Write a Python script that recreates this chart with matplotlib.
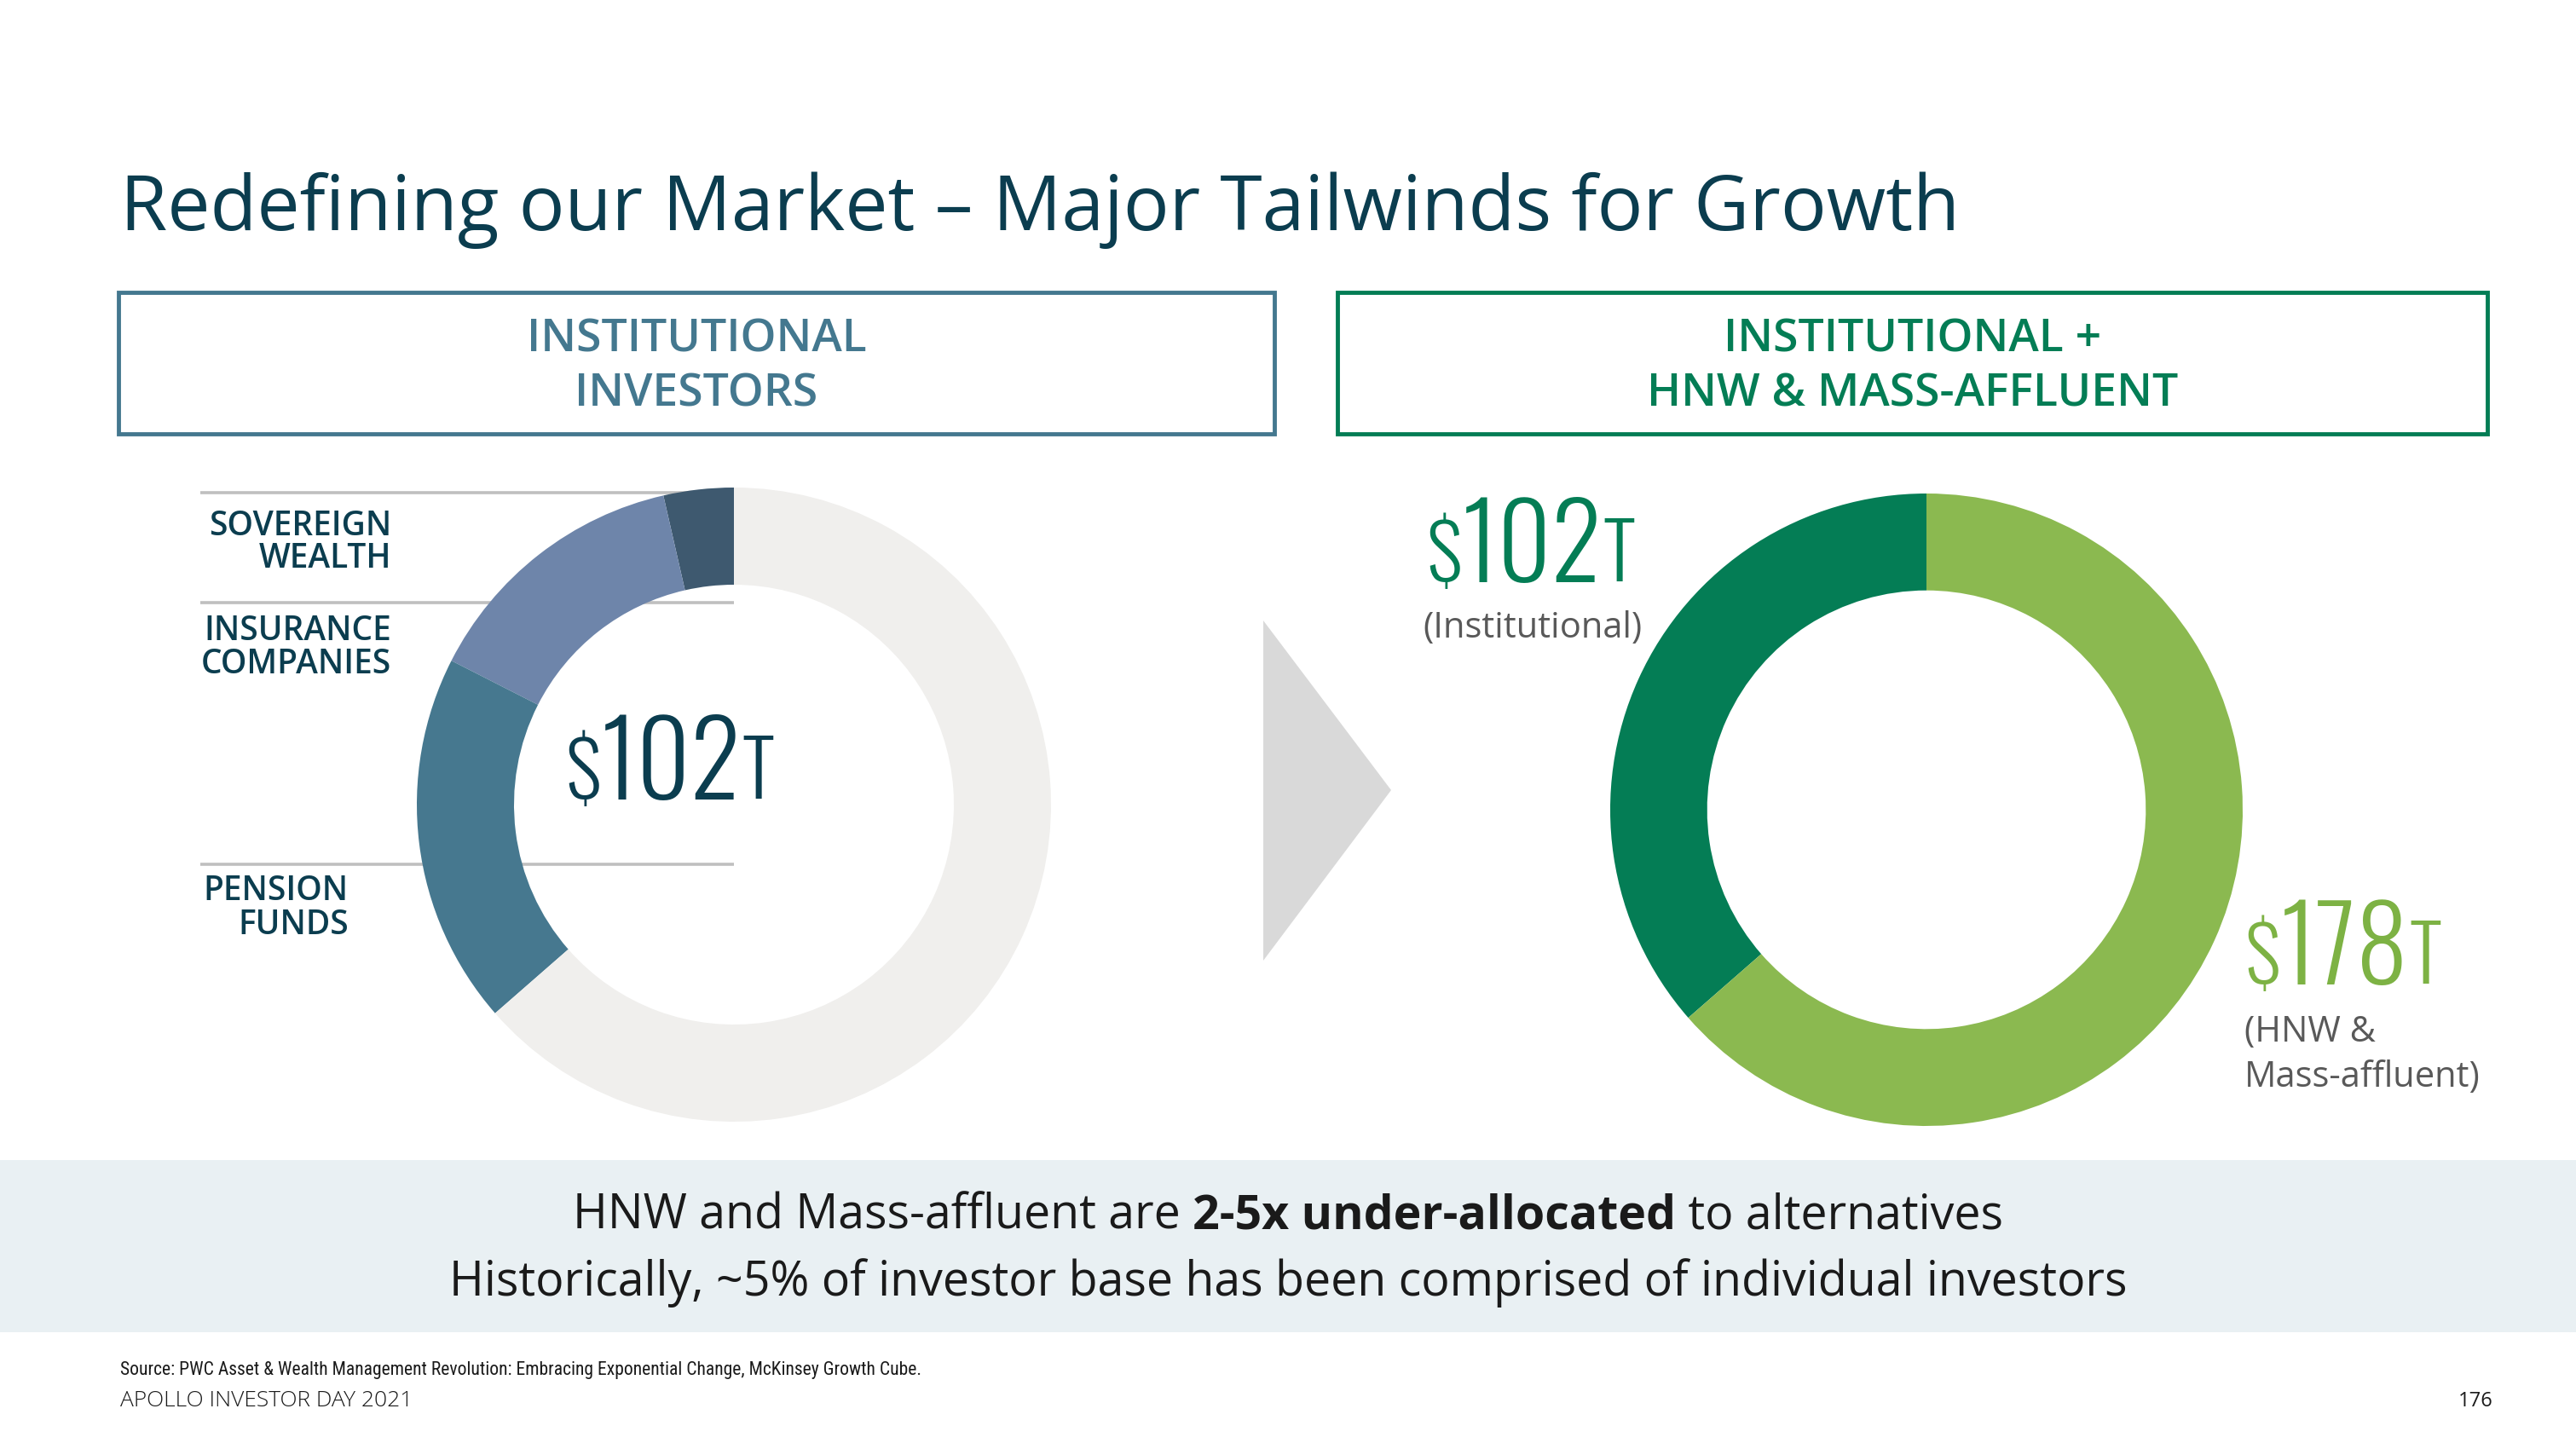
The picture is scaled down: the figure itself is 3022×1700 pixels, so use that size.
import os
import matplotlib
matplotlib.use("Agg")
import matplotlib.pyplot as plt
from matplotlib import font_manager as fm
from matplotlib.font_manager import FontProperties
from matplotlib.patches import Rectangle, Polygon

# ---------------- data ----------------
title = "Redefining our Market \u2013 Major Tailwinds for Growth"
left_header = ["INSTITUTIONAL", "INVESTORS"]
right_header = ["INSTITUTIONAL +", "HNW & MASS-AFFLUENT"]

inst_labels = [["SOVEREIGN", "WEALTH"], ["INSURANCE", "COMPANIES"], ["PENSION", "FUNDS"]]
inst_values = [10, 39, 53]          # $T, institutional segments
hnw_value = 178                      # $T, HNW & mass-affluent
total_labels = ["(Institutional)", ["(HNW &", "Mass-affluent)"]]
total_values = [sum(inst_values), hnw_value]

band_line1 = [("HNW and Mass-affluent are ", "normal"), ("2-5x under-allocated", "bold"),
              (" to alternatives", "normal")]
band_line2 = "Historically, ~5% of investor base has been comprised of individual investors"
source = "Source: PWC Asset & Wealth Management Revolution: Embracing Exponential Change, McKinsey Growth Cube."
footer = "APOLLO INVESTOR DAY 2021"
page = "176"

# ---------------- styles ----------------
W, H = 3022, 1700
DARK = "#0B3D4F"
STEEL = "#44788F"
GREEN = "#047D55"
LGREEN = "#8BB950"
GREYTXT = "#595959"
inst_colors = ["#3E596F", "#6E85AA", "#46788F"]
rest_color = "#F0EFED"

BASE = ["Open Sans", "Noto Sans", "DejaVu Sans"]
plt.rcParams["font.family"] = BASE


def find_font(preds):
    for pred in preds:
        for f in fm.fontManager.ttflist:
            try:
                if pred(f):
                    return f.fname
            except Exception:
                pass
    return None


cond_path = find_font([
    lambda f: f.name == "Oswald" and f.style == "normal",
    lambda f: f.name == "Roboto Condensed" and f.weight in (300, "light") and f.style == "normal",
])
# make a light static instance of the (variable) condensed font if possible
if cond_path and "[" in os.path.basename(cond_path):
    try:
        from fontTools.ttLib import TTFont
        from fontTools.varLib import instancer
        vf = TTFont(cond_path)
        inst = instancer.instantiateVariableFont(vf, {"wght": 300})
        inst.save("cond_light.ttf")
        cond_path = os.path.abspath("cond_light.ttf")
    except Exception:
        pass

narrow_path = find_font([
    lambda f: f.name == "Liberation Sans Narrow" and f.weight in (400, "normal", "regular") and f.style == "normal",
    lambda f: f.name == "Roboto Condensed" and f.weight in (400, "normal") and f.style == "normal",
])


def cond_fp(size):
    if cond_path:
        return FontProperties(fname=cond_path, size=size)
    return FontProperties(family=BASE, size=size, weight="light")


def narrow_fp(size):
    if narrow_path:
        return FontProperties(fname=narrow_path, size=size)
    return FontProperties(family=BASE, size=size)


fig = plt.figure(figsize=(W / 100, H / 100), dpi=100)
ax = fig.add_axes([0, 0, 1, 1])
renderer = fig.canvas.get_renderer()


def Y(y):
    return H - y


# ---------------- donuts ----------------
ring = 114 / 372
ax.pie(inst_values + [hnw_value], colors=inst_colors + [rest_color], startangle=90,
       counterclock=True, radius=372, center=(861, Y(944)),
       wedgeprops=dict(width=372 * ring, linewidth=0, zorder=3))
ax.pie(total_values, colors=[GREEN, LGREEN], startangle=90, counterclock=True,
       radius=371, center=(2260, Y(950)),
       wedgeprops=dict(width=371 * ring, linewidth=0, zorder=3))
ax.set_xlim(0, W)
ax.set_ylim(0, H)
ax.set_aspect("equal")
ax.axis("off")

# ---------------- helpers ----------------


def width_of(s, **props):
    t1 = ax.text(0, 0, "|" + s + "|", **props)
    t2 = ax.text(0, 0, "||", **props)
    w = t1.get_window_extent(renderer).width - t2.get_window_extent(renderer).width
    t1.remove()
    t2.remove()
    return w


def runs(parts, x, y, align="left"):
    widths = [width_of(s, **p) for s, p in parts]
    total = sum(widths)
    cur = x - total / 2 if align == "center" else x
    for (s, p), w in zip(parts, widths):
        ax.text(cur, Y(y), s, ha="left", va="baseline", **p)
        cur += w


def big_number(x, y, value, color, size=88):
    parts = [("$", dict(fontproperties=cond_fp(size * 0.74), color=color)),
             (str(value), dict(fontproperties=cond_fp(size), color=color)),
             ("T", dict(fontproperties=cond_fp(size * 0.75), color=color))]
    runs(parts, x, y)


# ---------------- title ----------------
ax.text(141, Y(270), title, ha="left", va="baseline", fontsize=64.5, color=DARK)

# ---------------- header boxes ----------------
for (x0, x1, col, lines) in [(139, 1495, STEEL, left_header), (1569, 2918, GREEN, right_header)]:
    ax.add_patch(Rectangle((x0, Y(509)), x1 - x0, 509 - 343, fill=False, edgecolor=col,
                           linewidth=3.5, zorder=2))
    for ln, yb in zip(lines, [412, 476]):
        ax.text((x0 + x1) / 2, Y(yb), ln, ha="center", va="baseline", fontsize=38.5,
                fontweight="semibold", color=col)

# ---------------- leader lines & labels ----------------
for yl in [578, 707, 1014]:
    ax.plot([235, 861], [Y(yl), Y(yl)], color="#BFBFBF", lw=2.6, zorder=1,
            solid_capstyle="butt")
label_pos = [(459, [628, 666]), (459, [751, 790]), (409, [1056, 1096])]
for lines, (xr, ys) in zip(inst_labels, label_pos):
    for ln, yb in zip(lines, ys):
        ax.text(xr, Y(yb), ln, ha="right", va="baseline", fontsize=28,
                fontweight="semibold", color=DARK)

# ---------------- big numbers ----------------
big_number(663, 938, total_values[0], DARK)
big_number(1673, 683, total_values[0], GREEN)
ax.text(1669, Y(748), total_labels[0], ha="left", va="baseline", fontsize=30, color=GREYTXT)
big_number(2633, 1155, total_values[1], "#7DB244")
for ln, yb in zip(total_labels[1], [1222, 1275]):
    ax.text(2633, Y(yb), ln, ha="left", va="baseline", fontsize=30, color=GREYTXT)

# ---------------- arrow ----------------
ax.add_patch(Polygon([(1482, Y(728)), (1482, Y(1127)), (1632, Y(927))], closed=True,
                     facecolor="#D9D9D9", edgecolor="none", zorder=2))

# ---------------- bottom band ----------------
ax.add_patch(Rectangle((0, Y(1563)), W, 1563 - 1361, facecolor="#E9F0F3", edgecolor="none",
                       zorder=0))
runs([(s, dict(fontsize=40, fontweight=wt, color="#1A1A1A")) for s, wt in band_line1],
     W / 2, 1441, align="center")
ax.text(W / 2, Y(1520), band_line2, ha="center", va="baseline", fontsize=40, color="#1A1A1A")

# ---------------- footer ----------------
ax.text(141, Y(1613), source, ha="left", va="baseline", fontproperties=narrow_fp(15.6),
        color="#1A1A1A")
ax.text(141, Y(1650), footer, ha="left", va="baseline", fontsize=19, fontweight="light",
        color="#1A1A1A")
ax.text(2925, Y(1650), page, ha="right", va="baseline", fontsize=17, color="#1A1A1A")

fig.savefig("out.png", dpi=100, facecolor="white")
